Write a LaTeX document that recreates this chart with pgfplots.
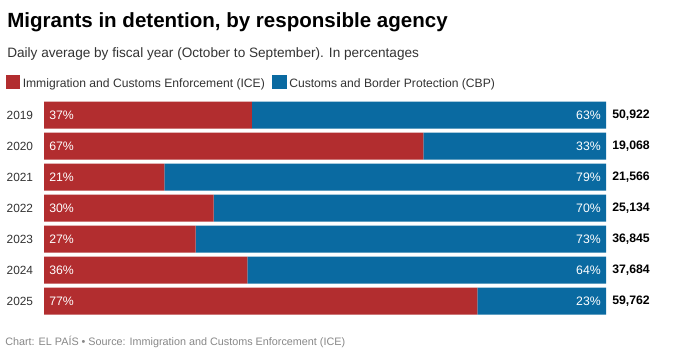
\documentclass[border=0pt]{standalone}
\usepackage{fontspec}
\setmainfont{Liberation Sans}
\usepackage{pgfplots}
\usepackage{pgfplotstable}
\pgfplotsset{compat=1.18}
\definecolor{ice}{HTML}{B22D2F}
\definecolor{cbp}{HTML}{0A6AA1}
\definecolor{txt}{HTML}{333333}
\definecolor{foot}{HTML}{888888}
\pgfplotstableread{
pos ice cbp ilab clab total yr
0 37.0 63.0 37 63 50,922 2019
1 67.5 32.5 67 33 19,068 2020
2 21.4 78.6 21 79 21,566 2021
3 30.2 69.8 30 70 25,134 2022
4 27.0 73.0 27 73 36,845 2023
5 36.2 63.8 36 64 37,684 2024
6 77.1 22.9 77 23 59,762 2025
}\data
\pgfplotsset{
  geom/.style={at={(33pt,-76.275pt)}, anchor=north west, scale only axis,
    width=421.5pt, height=159.75pt, xmin=0, xmax=100,
    ymin=-0.4355, ymax=6.4355, y dir=reverse, hide axis},
  lbl/.style={only marks, mark=none, point meta=explicit symbolic,
    nodes near coords style={inner sep=0pt, font=\fontsize{9.2}{11}\selectfont}},
}
\begin{document}
\begin{tikzpicture}
\path[use as bounding box, fill=white] (0,0) rectangle (505.5pt,-271.5pt);
\begin{scope}[x=0.75pt,y=-0.75pt]
\node[anchor=base west, inner sep=0pt, text=black, font=\bfseries\fontsize{15.4}{18}\selectfont] at (7,27.5) {Migrants in detention, by responsible agency};
\node[anchor=base west, inner sep=0pt, text=txt, font=\fontsize{10.2}{12}\selectfont] at (7,57.5) {Daily average by fiscal year (October to September). In percentages};
\fill[ice] (6,75) rectangle (20,89);
\node[anchor=base west, inner sep=0pt, text=txt, font=\fontsize{9.1}{11}\selectfont] at (22.5,87) {Immigration and Customs Enforcement (ICE)};
\fill[cbp] (272.3,75) rectangle (286.7,89);
\node[anchor=base west, inner sep=0pt, text=txt, font=\fontsize{9.1}{11}\selectfont] at (289,87) {Customs and Border Protection (CBP)};
\node[anchor=base west, inner sep=0pt, text=foot, font=\fontsize{8.1}{10}\selectfont] at (5,345) {Chart: EL PAÍS • Source: Immigration and Customs Enforcement (ICE)};
\end{scope}
\begin{axis}[geom, xbar stacked, bar width=20.25pt]
\addplot[fill=ice, draw=none] table[x=ice, y=pos] {\data};
\addplot[fill=cbp, draw=none] table[x=cbp, y=pos] {\data};
\end{axis}
\begin{axis}[geom, clip=false]
\addplot[lbl, nodes near coords={\pgfplotspointmeta},
  nodes near coords style={anchor=east, xshift=-8pt, text=txt, font=\fontsize{8.9}{11}\selectfont}]
  table[x expr=0, y=pos, meta=yr] {\data};
\addplot[lbl, nodes near coords={\pgfplotspointmeta\%},
  nodes near coords style={anchor=west, xshift=3.75pt, text=white}]
  table[x expr=0, y=pos, meta=ilab] {\data};
\addplot[lbl, nodes near coords={\pgfplotspointmeta\%},
  nodes near coords style={anchor=east, xshift=-3.75pt, text=white}]
  table[x expr=100, y=pos, meta=clab] {\data};
\addplot[lbl, nodes near coords={\textbf{\pgfplotspointmeta}},
  nodes near coords style={anchor=west, xshift=4.5pt, text=black}]
  table[x expr=100, y=pos, meta=total] {\data};
\end{axis}
\end{tikzpicture}
\end{document}
